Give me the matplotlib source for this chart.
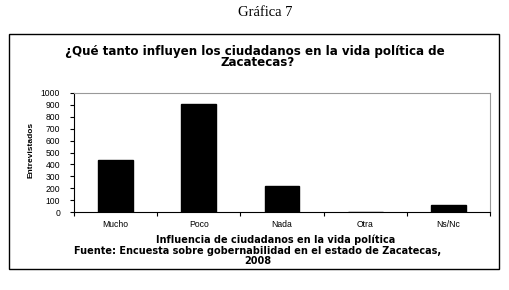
import numpy as np
import matplotlib.pyplot as plt
from matplotlib.patches import Rectangle

categories = ['Mucho', 'Poco', 'Nada', 'Otra', 'Ns/Nc']
entrevistados = [435, 905, 215, 0, 60]
yticks = list(range(0, 1001, 100))

W, H = 509, 290
fig = plt.figure(figsize=(W / 100, H / 100), dpi=100)
fig.patch.set_facecolor('white')
plt.rcParams['font.family'] = ['Liberation Sans', 'DejaVu Sans']

# axes box in pixel coords
left, right, top, bottom = 74, 490, 93, 212
ax = fig.add_axes([left / W, 1 - bottom / H, (right - left) / W, (bottom - top) / H])

x = np.arange(len(categories))
ax.bar(x, entrevistados, width=0.42, color='black', edgecolor='black')
ax.set_xlim(-0.5, len(categories) - 0.5)
ax.set_ylim(0, 1000)
ax.set_yticks(yticks)
ax.set_yticklabels([str(t) for t in yticks], fontsize=6.2)
ax.set_xticks(np.arange(len(categories) + 1) - 0.5)
ax.set_xticklabels([])
ax.set_xticks(x, minor=True)
ax.set_xticklabels(categories, minor=True, fontsize=6.2)
ax.tick_params(axis='x', which='minor', length=0, pad=6)
ax.tick_params(axis='x', which='major', length=3, direction='out', width=0.8)
ax.tick_params(axis='y', length=3, width=0.8, pad=7)
ax.spines['top'].set_color('#999999')
ax.spines['right'].set_color('#999999')
for s in ['top', 'right', 'left', 'bottom']:
    ax.spines[s].set_linewidth(0.8)
fig.text(31 / W, 1 - 150 / H, 'Entrevistados', rotation=90, ha='center', va='center',
         fontsize=6, fontweight='bold')

# outer frame
fig.patches.append(Rectangle((9 / W, 1 - 269 / H), (499 - 9) / W, (269 - 34) / H,
                             transform=fig.transFigure, fill=False, edgecolor='black', linewidth=1.0))

fig.text(265 / W, 1 - 12.5 / H, 'Gráfica 7', ha='center', va='center', fontsize=10.5, family='Liberation Serif')

bold = dict(ha='center', va='center', fontweight='bold', family='DejaVu Sans')
fig.text(255 / W, 1 - 51 / H, '¿Qué tanto influyen los ciudadanos en la vida política de', fontsize=8.6, **bold)
fig.text(258 / W, 1 - 63 / H, 'Zacatecas?', fontsize=8.6, **bold)

fig.text(276 / W, 1 - 240 / H, 'Influencia de ciudadanos en la vida política', fontsize=7, **bold)
fig.text(258 / W, 1 - 250.5 / H, 'Fuente: Encuesta sobre gobernabilidad en el estado de Zacatecas,', fontsize=7, **bold)
fig.text(258 / W, 1 - 261 / H, '2008', fontsize=7, **bold)

fig.savefig('out.png', dpi=100)
